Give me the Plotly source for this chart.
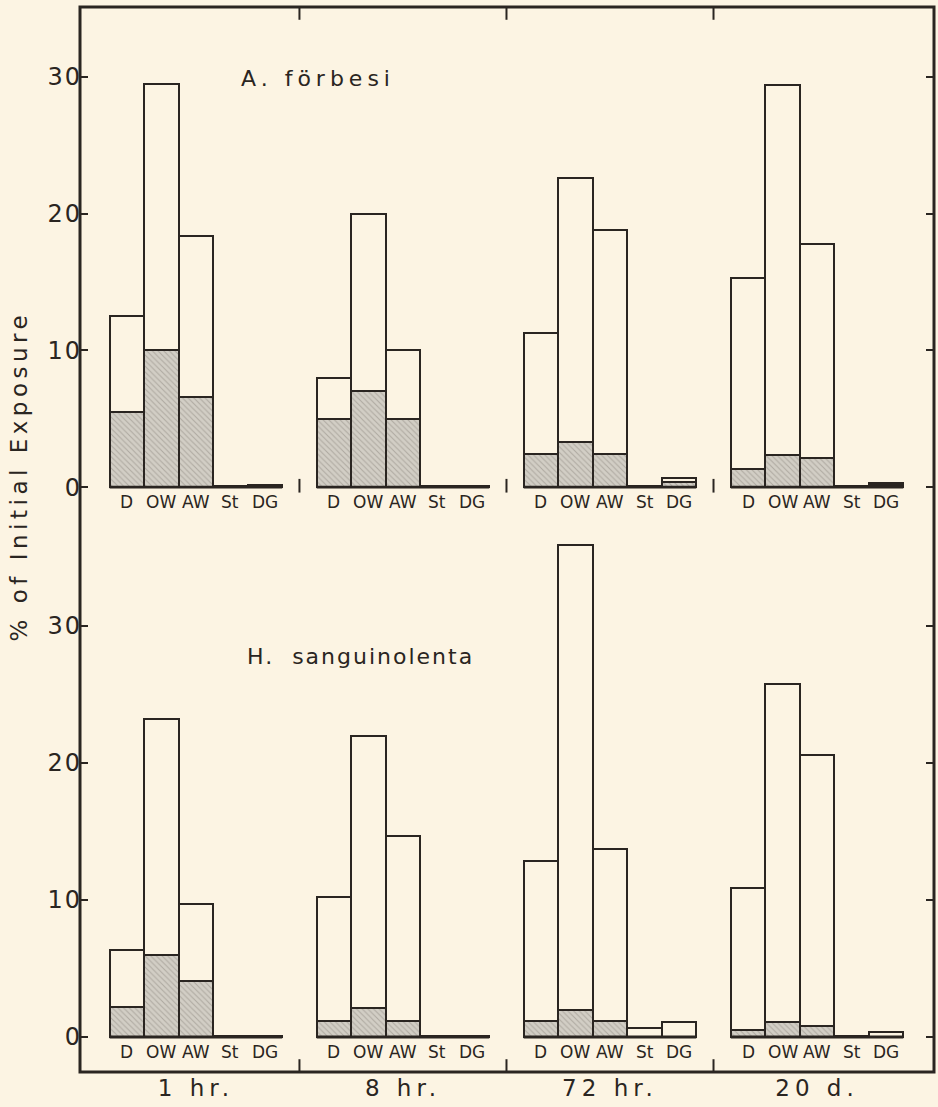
import plotly.graph_objects as go

# ---------------- data ----------------
categories = ["D", "OW", "AW", "St", "DG"]
times = ["1 hr.", "8 hr.", "72 hr.", "20 d."]
species = ["A. förbesi", "H.  sanguinolenta"]
y_ticks = [0, 10, 20, 30]

# A. forbesi: total height of each bar, per time group
forbesi_total = [
    [12.5, 29.5, 18.4, 0.05, 0.15],
    [8.0, 20.0, 10.0, 0.05, 0.1],
    [11.3, 22.6, 18.8, 0.05, 0.7],
    [15.3, 29.4, 17.8, 0.1, 0.3],
]
# A. forbesi: shaded (lower) part of each bar
forbesi_shaded = [
    [5.5, 10.0, 6.6, 0, 0],
    [5.0, 7.0, 5.0, 0, 0],
    [2.4, 3.3, 2.4, 0, 0.35],
    [1.3, 2.35, 2.1, 0, 0.15],
]
# H. sanguinolenta: total height
sang_total = [
    [6.35, 23.2, 9.7, 0.05, 0.05],
    [10.2, 22.0, 14.7, 0.05, 0.05],
    [12.85, 35.9, 13.7, 0.66, 1.1],
    [10.9, 25.8, 20.6, 0.1, 0.35],
]
# H. sanguinolenta: shaded part
sang_shaded = [
    [2.2, 6.0, 4.1, 0, 0],
    [1.2, 2.1, 1.2, 0, 0],
    [1.2, 2.0, 1.2, 0, 0],
    [0.5, 1.1, 0.8, 0.05, 0],
]

# ---------------- style ----------------
INK = "#2a2521"
BG = "#fcf4e3"
FONT = "DejaVu Sans"
STEP = 6  # bar slots between group starts

fig = go.Figure()

panels = [("y", forbesi_total, forbesi_shaded), ("y2", sang_total, sang_shaded)]
for yax, tot, sh in panels:
    for g in range(len(times)):
        xs = [g * STEP + c for c in range(len(categories))]
        fig.add_trace(go.Bar(
            x=xs, y=tot[g], width=1, yaxis=yax, xaxis="x",
            marker=dict(color=BG, line=dict(color=INK, width=2)),
            showlegend=False, hoverinfo="skip"))
        sx = [x for x, v in zip(xs, sh[g]) if v > 0]
        sy = [v for v in sh[g] if v > 0]
        fig.add_trace(go.Bar(
            x=sx, y=sy, width=1, yaxis=yax, xaxis="x",
            marker=dict(color="#cdc9c0", line=dict(color=INK, width=2),
                        pattern=dict(shape="\\", fgcolor="#8a857d", bgcolor="#d2cec5",
                                     size=4, solidity=0.28)),
            showlegend=False, hoverinfo="skip"))
        # group baseline
        fig.add_trace(go.Scatter(
            x=[xs[0] - 0.5, xs[-1] + 0.5], y=[0, 0], mode="lines", yaxis=yax, xaxis="x",
            line=dict(color=INK, width=2.8), showlegend=False, hoverinfo="skip"))
        for c, cat in enumerate(categories):
            fig.add_annotation(x=xs[c], y=0, xref="x", yref=yax, text=cat,
                               showarrow=False, yanchor="top", yshift=-3,
                               font=dict(family=FONT, size=17, color=INK))

# separator ticks (bottom and top of frame), plus small marks at top baseline
for g in range(len(times) - 1):
    xsep = g * STEP + 5
    fig.add_shape(type="line", xref="x", yref="paper", x0=xsep, x1=xsep, y0=0, y1=0.012,
                  line=dict(color=INK, width=2))
    fig.add_shape(type="line", xref="x", yref="paper", x0=xsep, x1=xsep, y0=1, y1=0.988,
                  line=dict(color=INK, width=2))
    fig.add_shape(type="line", xref="x", yref="y", x0=xsep, x1=xsep, y0=-0.4, y1=0.6,
                  line=dict(color=INK, width=2))

# frame
fig.add_shape(type="rect", xref="paper", yref="paper", x0=0, x1=1, y0=0, y1=1,
              line=dict(color=INK, width=3))

# species labels
fig.add_annotation(x=0.216, y=0.933, xref="paper", yref="paper", text=species[0],
                   showarrow=False, xanchor="left", yanchor="middle",
                   font=dict(family=FONT, size=22, color=INK))
fig.add_annotation(x=0.213, y=0.39, xref="paper", yref="paper", text=species[1],
                   showarrow=False, xanchor="left", yanchor="middle",
                   font=dict(family=FONT, size=22, color=INK))

# y title
fig.add_annotation(x=-0.072, y=0.559, xref="paper", yref="paper",
                   text="% of Initial Exposure", textangle=-90, showarrow=False,
                   xanchor="center", yanchor="middle",
                   font=dict(family=FONT, size=23, color=INK))

yaxis_common = dict(tickvals=y_ticks, ticks="inside", ticklen=8, tickwidth=2.2,
                    tickcolor=INK, mirror="ticks", showline=False, showgrid=False,
                    zeroline=False, tickfont=dict(family=FONT, size=24, color=INK),
                    ticklabelstandoff=-3, fixedrange=True, automargin=False)

fig.update_layout(
    width=938, height=1107,
    margin=dict(l=80, r=4, t=7, b=35),
    paper_bgcolor=BG, plot_bgcolor=BG,
    barmode="overlay", bargap=0,
    showlegend=False,
    xaxis=dict(range=[-1.36, 23.39], tickvals=[g * STEP + 2 for g in range(len(times))],
               ticktext=times, ticks="", showgrid=False, zeroline=False, showline=False,
               anchor="y2", tickfont=dict(family=FONT, size=23, color=INK),
               fixedrange=True, automargin=False),
    yaxis=dict(domain=[0.537, 1], range=[-0.95, 35.11], anchor="x", **yaxis_common),
    yaxis2=dict(domain=[0, 0.4995], range=[-2.555, 36.28], anchor="x", **yaxis_common),
)

post = """
document.body.style.margin = '0';
document.body.style.background = 'BGCOLOR';
var spacing = {'A. förbesi': '5px', 'H.  sanguinolenta': '2px',
               '% of Initial Exposure': '4.5px'};
document.querySelectorAll('.annotation-text').forEach(function(t){
  var s = spacing[t.textContent];
  if (s) { t.style.letterSpacing = s; }
});
document.querySelectorAll('.xtick text').forEach(function(t){ t.style.letterSpacing = '5px'; });
document.querySelectorAll('.ytick text, .y2tick text').forEach(function(t){ t.style.letterSpacing = '2px'; });
""".replace("BGCOLOR", BG)

fig.write_html("out.html", post_script=post, config={"displayModeBar": False})
